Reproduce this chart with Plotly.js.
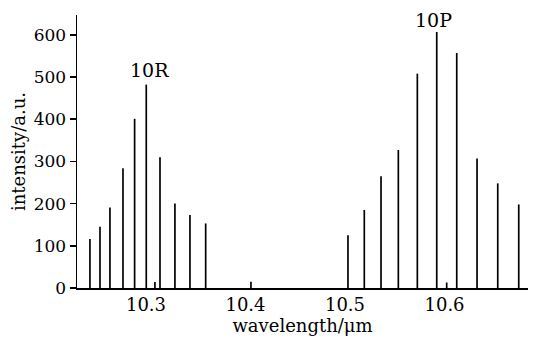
<!DOCTYPE html>
<html>
<head>
<meta charset="utf-8">
<script src="https://cdn.plot.ly/plotly-3.0.1.min.js"></script>
<style>html,body{margin:0;padding:0;background:#fff;}#chart{width:534px;height:338px;}</style>
</head>
<body>
<div id="chart"></div>
<script>
// 10R branch lines
const wavelengthR = [10.2437, 10.2538, 10.2638, 10.2769, 10.2886, 10.3003, 10.3141, 10.3291, 10.3442, 10.3600];
const intensityR  = [116, 145, 191, 284, 401, 482, 310, 200, 173, 153];
// 10P branch lines
const wavelengthP = [10.5030, 10.5194, 10.5362, 10.5536, 10.5727, 10.5922, 10.6123, 10.6327, 10.6535, 10.6746];
const intensityP  = [125, 185, 265, 327, 508, 607, 557, 307, 248, 198];
// small residual lines
const wavelengthS = [10.3090, 10.4055, 10.6022];
const intensityS  = [14, 15, 13];

const xTicks = [10.3, 10.4, 10.5, 10.6];
const xTickText = ['10.3', '10.4', '10.5', '10.6'];
const yTicks = [0, 100, 200, 300, 400, 500, 600];
const labels = [
  {text: '10R', x: 10.304, y: 517},
  {text: '10P', x: 10.5894, y: 636}
];

const F = 'DejaVu Serif';
const barStyle = {type: 'bar', width: 0.0017, marker: {color: '#000', line: {width: 0}}, hoverinfo: 'skip', showlegend: false};

const traces = [
  Object.assign({x: wavelengthR, y: intensityR}, barStyle),
  Object.assign({x: wavelengthP, y: intensityP}, barStyle),
  Object.assign({x: wavelengthS, y: intensityS}, barStyle)
];

const layout = {
  width: 534, height: 338,
  margin: {l: 77, r: 6, t: 15, b: 50},
  paper_bgcolor: '#fff', plot_bgcolor: '#fff',
  barmode: 'overlay',
  xaxis: {
    range: [10.2307, 10.6839],
    tickvals: xTicks, ticktext: xTickText,
    showgrid: false, zeroline: false,
    showline: true, linecolor: '#000', linewidth: 1.5,
    ticks: '',
    tickfont: {family: F, size: 18, color: '#000'},
    title: {text: 'wavelength/μm', font: {family: F, size: 18, color: '#000'}, standoff: 2}
  },
  yaxis: {
    range: [0, 647],
    tickvals: yTicks,
    showgrid: false, zeroline: false,
    showline: true, linecolor: '#000', linewidth: 1.5,
    ticks: 'outside', ticklen: 6, tickwidth: 1.5, tickcolor: '#000',
    tickfont: {family: F, size: 17, color: '#000'},
    title: {text: 'intensity/a.u.', font: {family: F, size: 18, color: '#000'}, standoff: 3}
  },
  annotations: labels.map(l => ({
    text: l.text, x: l.x, y: l.y, xref: 'x', yref: 'y',
    showarrow: false, font: {family: F, size: 19, color: '#000'}
  }))
};

Plotly.newPlot('chart', traces, layout, {staticPlot: true, displayModeBar: false});
</script>
</body>
</html>
